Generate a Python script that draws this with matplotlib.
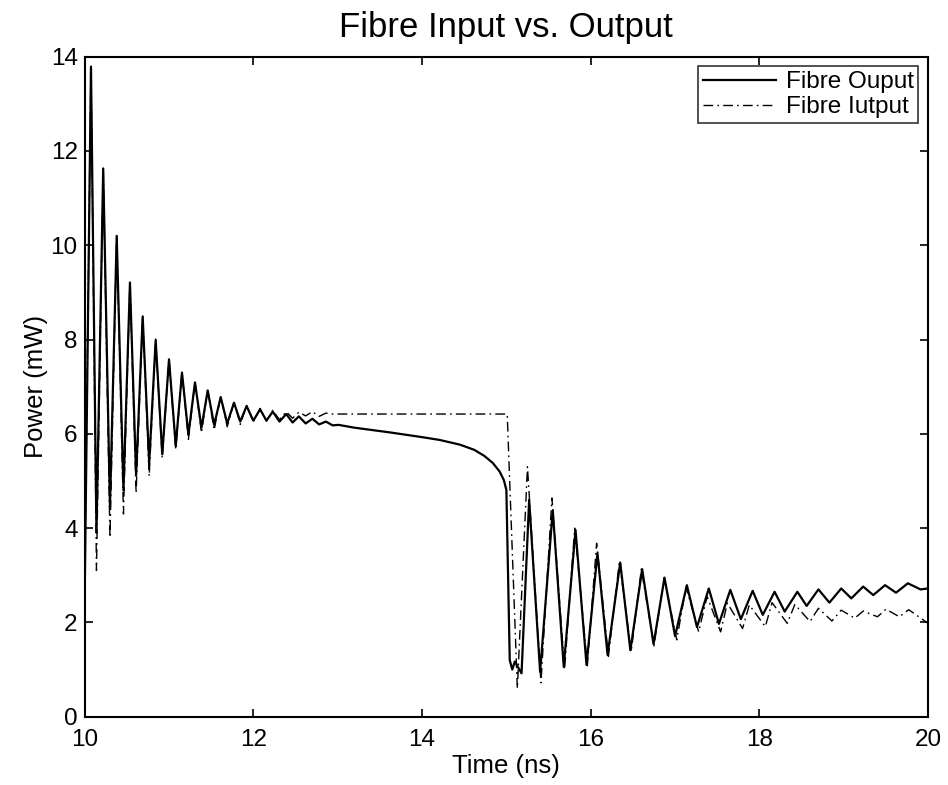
import matplotlib
matplotlib.use("Agg")
import matplotlib.pyplot as plt

plt.rcParams['font.family'] = ['Liberation Sans', 'DejaVu Sans']

# ---- data (time in ns, power in mW) ----
out_t = [10.0, 10.075, 10.14, 10.22, 10.30, 10.38, 10.46, 10.537, 10.61, 10.688, 10.765,
         10.842, 10.92, 11.0, 11.08, 11.154, 11.23, 11.308, 11.385, 11.459, 11.535,
         11.613, 11.69, 11.771, 11.845, 11.92, 12.0, 12.08, 12.155, 12.23, 12.31,
         12.39, 12.465, 12.54, 12.62, 12.70, 12.78, 12.86, 12.94, 13.01, 13.2, 13.62,
         14.0, 14.21, 14.45, 14.62, 14.74, 14.84, 14.92, 14.97, 15.0, 15.02, 15.04, 15.07,
         15.10, 15.18, 15.27, 15.40, 15.55, 15.68, 15.82, 15.95, 16.08, 16.20, 16.35,
         16.47, 16.61, 16.745, 16.875, 17.0, 17.14, 17.26, 17.40, 17.52, 17.655, 17.78,
         17.92, 18.04, 18.18, 18.30, 18.45, 18.56, 18.70, 18.83, 18.97, 19.09, 19.23,
         19.35, 19.49, 19.62, 19.76, 19.91, 20.0]
out_p = [2.5, 13.79, 3.9, 11.63, 4.45, 10.20, 4.8, 9.21, 5.12, 8.49, 5.38,
         7.99, 5.57, 7.58, 5.75, 7.30, 5.98, 7.09, 6.13, 6.92, 6.19,
         6.78, 6.22, 6.66, 6.26, 6.59, 6.28, 6.52, 6.28, 6.47, 6.26,
         6.42, 6.24, 6.37, 6.22, 6.32, 6.20, 6.26, 6.18, 6.19, 6.13, 6.03,
         5.93, 5.87, 5.77, 5.66, 5.53, 5.38, 5.20, 5.02, 4.81, 3.0, 1.2, 1.0,
         1.17, 0.92, 4.60, 0.95, 4.38, 1.06, 3.96, 1.10, 3.47, 1.31, 3.27,
         1.41, 3.13, 1.54, 2.95, 1.71, 2.79, 1.90, 2.72, 1.97, 2.69, 2.07,
         2.67, 2.16, 2.65, 2.23, 2.65, 2.35, 2.70, 2.42, 2.72, 2.51, 2.76,
         2.58, 2.79, 2.63, 2.83, 2.70, 2.72]

in_t = [10.0, 10.075, 10.14, 10.22, 10.30, 10.38, 10.46, 10.537, 10.61, 10.688, 10.765,
        10.842, 10.92, 11.0, 11.08, 11.154, 11.23, 11.308, 11.385, 11.459, 11.535,
        11.613, 11.69, 11.771, 11.845, 11.92, 12.0, 12.08, 12.155, 12.23, 12.31,
        12.39, 12.465, 12.54, 12.62, 12.70, 12.78, 12.86, 12.94, 15.0, 15.01, 15.13,
        15.25, 15.41, 15.54, 15.69, 15.81, 15.96, 16.07, 16.21, 16.34, 16.48, 16.60,
        16.75, 16.87, 17.02, 17.13, 17.28, 17.38, 17.54, 17.62, 17.80, 17.88, 18.07,
        18.15, 18.33, 18.42, 18.60, 18.70, 18.86, 18.97, 19.13, 19.23, 19.40, 19.50,
        19.66, 19.77, 20.0]
in_p = [3.0, 13.80, 3.1, 11.65, 3.8, 10.22, 4.3, 9.23, 4.74, 8.51, 5.10,
        8.01, 5.48, 7.60, 5.66, 7.32, 5.88, 7.11, 6.02, 6.94, 6.08,
        6.80, 6.15, 6.68, 6.20, 6.60, 6.25, 6.54, 6.27, 6.50, 6.30,
        6.47, 6.33, 6.46, 6.38, 6.47, 6.37, 6.44, 6.42, 6.42, 6.42, 0.60,
        5.30, 0.72, 4.64, 1.00, 4.00, 1.08, 3.68, 1.28, 3.30, 1.38, 3.13,
        1.50, 2.95, 1.63, 2.75, 1.80, 2.55, 1.80, 2.41, 1.87, 2.37, 1.91,
        2.42, 1.98, 2.38, 2.02, 2.30, 2.03, 2.26, 2.09, 2.24, 2.12, 2.28,
        2.12, 2.27, 1.98]

x_ticks = [10, 12, 14, 16, 18, 20]
y_ticks = [0, 2, 4, 6, 8, 10, 12, 14]

fig = plt.figure(figsize=(9.48, 7.85), dpi=100)
ax = fig.add_axes([0.0893, 0.087, 0.979 - 0.0893, 0.9278 - 0.087])

ax.plot(out_t, out_p, color='black', lw=1.6, solid_joinstyle='round', label='Fibre Ouput')
ax.plot(in_t, in_p, color='black', lw=1.0, dashes=[7, 3, 1.2, 3], label='Fibre Iutput')

ax.set_xlim(10, 20)
ax.set_ylim(0, 14)
ax.set_xticks(x_ticks)
ax.set_yticks(y_ticks)
ax.tick_params(direction='in', length=6, width=1.2, top=True, right=True,
               labelsize=17.5)
ax.tick_params(axis='x', pad=9)
ax.tick_params(axis='y', pad=5)
for s in ax.spines.values():
    s.set_linewidth(1.5)

ax.set_xlabel('Time (ns)', fontsize=18.5, labelpad=2)
ax.set_ylabel('Power (mW)', fontsize=18.5, labelpad=2)
ax.set_title('Fibre Input vs. Output', fontsize=25, pad=14)

leg = ax.legend(loc='upper right', fontsize=17.5, frameon=True, fancybox=False,
                borderaxespad=0.4, handlelength=3.0, borderpad=0.2,
                labelspacing=0.12, handletextpad=0.4)
leg.get_frame().set_edgecolor('black')
leg.get_frame().set_linewidth(1.2)

fig.savefig('out.png', dpi=100)
